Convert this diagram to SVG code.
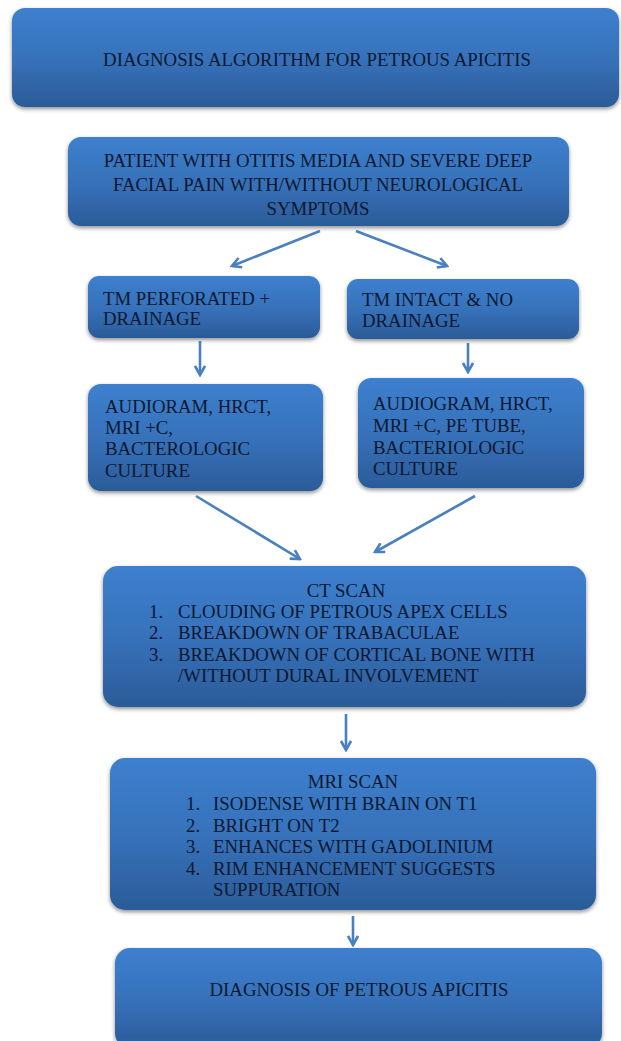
<svg xmlns="http://www.w3.org/2000/svg" width="621" height="1041" viewBox="0 0 621 1041">
<defs>
<linearGradient id="g" x1="0" y1="0" x2="0" y2="1">
<stop offset="0" stop-color="#3d80cf"/>
<stop offset="0.55" stop-color="#3670b8"/>
<stop offset="1" stop-color="#2b5b98"/>
</linearGradient>
<filter id="sh" x="-5%" y="-5%" width="110%" height="120%">
<feGaussianBlur in="SourceAlpha" stdDeviation="2"/>
<feOffset dy="2" result="b"/>
<feComponentTransfer><feFuncA type="linear" slope="0.45"/></feComponentTransfer>
<feMerge><feMergeNode/><feMergeNode in="SourceGraphic"/></feMerge>
</filter>
<marker id="ah" viewBox="0 0 12 12" refX="10" refY="6" markerWidth="12" markerHeight="12" markerUnits="userSpaceOnUse" orient="auto">
<path d="M1,1 L10,6 L1,11" fill="none" stroke="#4a7fc0" stroke-width="2.6" stroke-linejoin="miter"/>
</marker>
</defs>
<style>
.box{fill:url(#g);filter:url(#sh)}
.t{font-family:"Liberation Serif","Times New Roman",serif;font-size:18.8px;fill:#0c1830}
.c{text-anchor:middle}
.arr{stroke:#4a7fc0;stroke-width:2.6;fill:none;marker-end:url(#ah)}
</style>
<rect width="621" height="1041" fill="#ffffff"/>
<g id="title">
<rect class="box" x="12" y="8" width="607" height="99" rx="13"/>
<text class="t c" x="317" y="66">DIAGNOSIS ALGORITHM FOR PETROUS APICITIS</text>
</g>
<g id="patient">
<rect class="box" x="68" y="137" width="501" height="89" rx="13"/>
<text class="t c" x="318" y="167">PATIENT WITH OTITIS MEDIA AND SEVERE DEEP</text>
<text class="t c" x="318" y="191">FACIAL PAIN WITH/WITHOUT NEUROLOGICAL</text>
<text class="t c" x="318" y="215">SYMPTOMS</text>
</g>
<g id="tm-perforated">
<rect class="box" x="88" y="276" width="232" height="62" rx="11"/>
<text class="t" x="103" y="305">TM PERFORATED +</text>
<text class="t" x="103" y="325">DRAINAGE</text>
</g>
<g id="tm-intact">
<rect class="box" x="347" y="279" width="232" height="60" rx="11"/>
<text class="t" x="362" y="306">TM INTACT &amp; NO</text>
<text class="t" x="362" y="327">DRAINAGE</text>
</g>
<g id="tests-left">
<rect class="box" x="88" y="384" width="235" height="107" rx="13"/>
<text class="t" x="105" y="413">AUDIORAM, HRCT,</text>
<text class="t" x="105" y="434">MRI +C,</text>
<text class="t" x="105" y="455">BACTEROLOGIC</text>
<text class="t" x="105" y="477">CULTURE</text>
</g>
<g id="tests-right">
<rect class="box" x="358" y="378" width="226" height="110" rx="13"/>
<text class="t" x="373" y="410">AUDIOGRAM, HRCT,</text>
<text class="t" x="373" y="432">MRI +C, PE TUBE,</text>
<text class="t" x="373" y="454">BACTERIOLOGIC</text>
<text class="t" x="373" y="475">CULTURE</text>
</g>
<g id="ct-scan">
<rect class="box" x="103" y="566" width="483" height="141" rx="15"/>
<text class="t c" x="346" y="597">CT SCAN</text>
<text class="t" x="149" y="618">1.</text><text class="t" x="178" y="618">CLOUDING OF PETROUS APEX CELLS</text>
<text class="t" x="149" y="639">2.</text><text class="t" x="178" y="639">BREAKDOWN OF TRABACULAE</text>
<text class="t" x="149" y="661">3.</text><text class="t" x="178" y="661">BREAKDOWN OF CORTICAL BONE WITH</text>
<text class="t" x="178" y="682">/WITHOUT DURAL INVOLVEMENT</text>
</g>
<g id="mri-scan">
<rect class="box" x="110" y="758" width="486" height="152" rx="15"/>
<text class="t c" x="353" y="788">MRI SCAN</text>
<text class="t" x="186" y="810">1.</text><text class="t" x="213" y="810">ISODENSE WITH BRAIN ON T1</text>
<text class="t" x="186" y="832">2.</text><text class="t" x="213" y="832">BRIGHT ON T2</text>
<text class="t" x="186" y="853">3.</text><text class="t" x="213" y="853">ENHANCES WITH GADOLINIUM</text>
<text class="t" x="186" y="875">4.</text><text class="t" x="213" y="875">RIM ENHANCEMENT SUGGESTS</text>
<text class="t" x="213" y="896">SUPPURATION</text>
</g>
<g id="diagnosis">
<rect class="box" x="115" y="948" width="487" height="100" rx="15"/>
<text class="t c" x="359" y="996">DIAGNOSIS OF PETROUS APICITIS</text>
</g>
<g id="connectors">
<path class="arr" d="M320,231 L232,266"/>
<path class="arr" d="M356,231 L447,266"/>
<path class="arr" d="M200,341 L200,375"/>
<path class="arr" d="M468,343 L468,372"/>
<path class="arr" d="M196,496 L300,559"/>
<path class="arr" d="M475,496 L375,552"/>
<path class="arr" d="M346,714 L346,750"/>
<path class="arr" d="M353,916 L353,945"/>
</g>
</svg>
